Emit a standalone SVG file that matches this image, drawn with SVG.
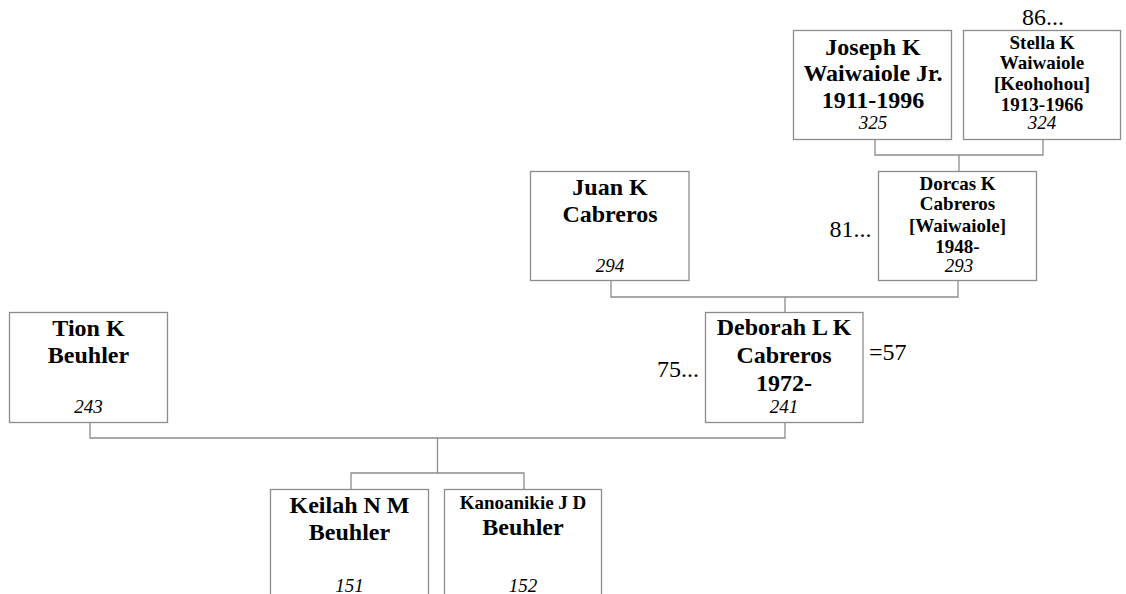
<svg xmlns="http://www.w3.org/2000/svg" width="1126" height="594" viewBox="0 0 1126 594">
<style>
.box{fill:#fff;stroke:#8c8c8c;stroke-width:1.3}
.c{fill:none;stroke:#8c8c8c;stroke-width:1.3}
text{font-family:"Liberation Serif","Times New Roman",serif;fill:#000;text-anchor:middle}
.n{font-weight:bold;font-size:24px}
.s{font-weight:bold;font-size:19px}
.i{font-style:italic;font-size:19px}
.r{font-size:24px}
</style>
<rect width="1126" height="594" fill="#fff"/>
<g id="connectors">
<path class="c" d="M875,139.5V155H1043V139.5M959,155V171.5"/>
<path class="c" d="M611,280.5V297H958V280.5M785,297V312.5"/>
<path class="c" d="M90,422.5V438H785V422.5M437.5,438V473"/>
<path class="c" d="M351,489.5V473H524V489.5"/>
</g>
<g id="joseph">
<rect class="box" x="793.5" y="30.5" width="158" height="109"/>
<text class="n" x="873" y="54.5">Joseph K</text>
<text class="n" x="873" y="81">Waiwaiole Jr.</text>
<text class="n" x="873" y="107.5">1911-1996</text>
<text class="i" x="873" y="128.5">325</text>
</g>
<g id="stella">
<rect class="box" x="963.5" y="30.5" width="157" height="109"/>
<text class="s" x="1042" y="48.5">Stella K</text>
<text class="s" x="1042" y="69">Waiwaiole</text>
<text class="s" x="1042" y="90">[Keohohou]</text>
<text class="s" x="1042" y="110.5">1913-1966</text>
<text class="i" x="1042" y="128.5">324</text>
<text class="r" x="1043" y="25">86...</text>
</g>
<g id="juan">
<rect class="box" x="530.5" y="171.5" width="158.5" height="109"/>
<text class="n" x="610" y="195">Juan K</text>
<text class="n" x="610" y="221.5">Cabreros</text>
<text class="i" x="610" y="271.5">294</text>
</g>
<g id="dorcas">
<rect class="box" x="878.5" y="171.5" width="158" height="109"/>
<text class="s" x="957.5" y="189.5">Dorcas K</text>
<text class="s" x="957.5" y="210">Cabreros</text>
<text class="s" x="957.5" y="231.5">[Waiwaiole]</text>
<text class="s" x="957.5" y="253">1948-</text>
<text class="i" x="959" y="271.5">293</text>
<text class="r" x="871.5" y="236.5" style="text-anchor:end">81...</text>
</g>
<g id="deborah">
<rect class="box" x="705.5" y="312.5" width="157.5" height="110"/>
<text class="n" x="784" y="335">Deborah L K</text>
<text class="n" x="784" y="363">Cabreros</text>
<text class="n" x="784" y="390.5">1972-</text>
<text class="i" x="784" y="412.5">241</text>
<text class="r" x="699" y="377" style="text-anchor:end">75...</text>
<text class="r" x="869" y="360" style="text-anchor:start">=57</text>
</g>
<g id="tion">
<rect class="box" x="9.5" y="312.5" width="158" height="110"/>
<text class="n" x="88.5" y="336">Tion K</text>
<text class="n" x="88.5" y="363">Beuhler</text>
<text class="i" x="88.5" y="413">243</text>
</g>
<g id="keilah">
<rect class="box" x="270.5" y="489.5" width="158" height="120"/>
<text class="n" x="349.5" y="512.5">Keilah N M</text>
<text class="n" x="349.5" y="540">Beuhler</text>
<text class="i" x="349.5" y="591.5">151</text>
</g>
<g id="kanoanikie">
<rect class="box" x="444.5" y="489.5" width="157" height="120"/>
<text class="s" x="523" y="508.5">Kanoanikie J D</text>
<text class="n" x="523" y="535">Beuhler</text>
<text class="i" x="523" y="591.5">152</text>
</g>
</svg>
